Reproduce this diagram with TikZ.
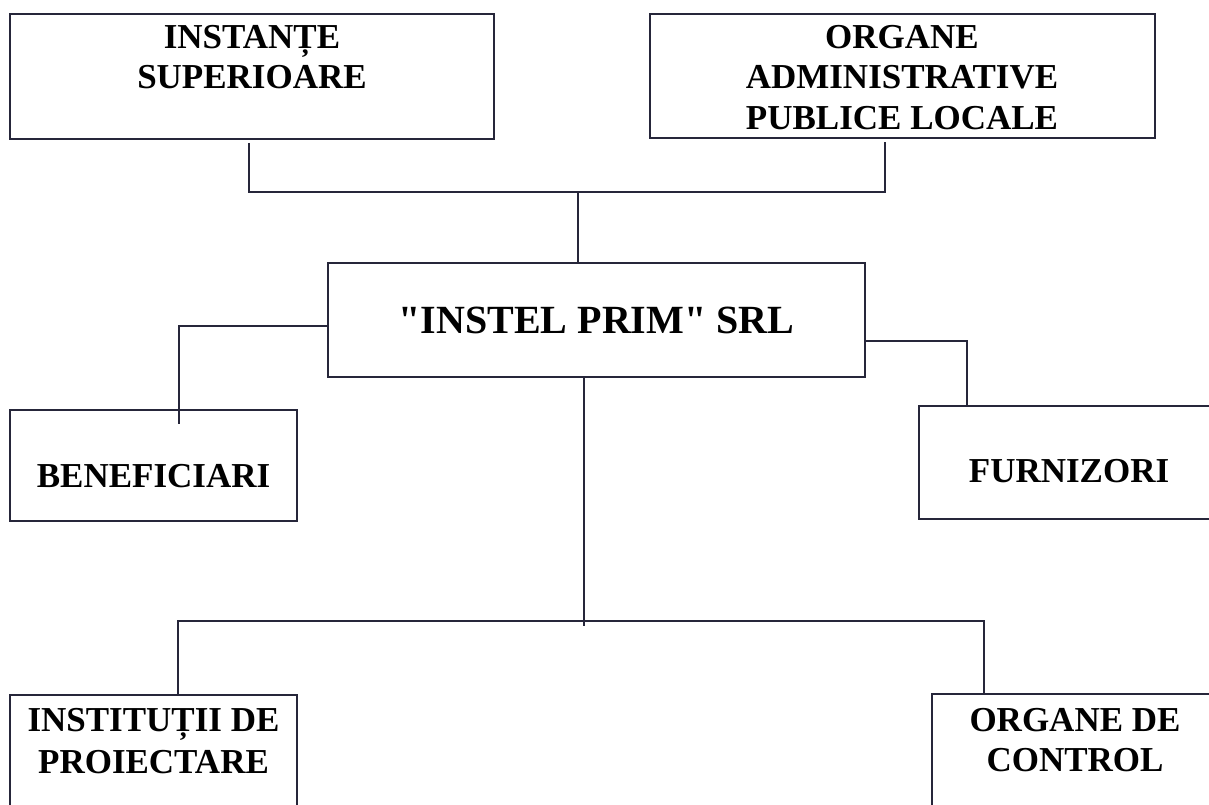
\documentclass[tikz,border=0pt]{standalone}
\usepackage{fontspec}
\setmainfont{Liberation Serif}[Ligatures=TeXOff]
\definecolor{linec}{RGB}{38,38,58}
\begin{document}
\begin{tikzpicture}[x=1pt,y=-1pt,
  box/.style={draw=linec, line width=1.6pt, rectangle, inner sep=0pt, outer sep=0pt},
  lbl/.style={font=\bfseries\fontsize{35}{40}\selectfont, align=center, inner sep=0pt, text=black},
  biglbl/.style={font=\bfseries\fontsize{40}{46}\selectfont, align=center, inner sep=0pt, text=black},
  conn/.style={draw=linec, line width=1.6pt}]
\clip (0,0) rectangle (1209,805);
\fill[white] (0,0) rectangle (1209,805);
% boxes
\node[box, minimum width=484pt, minimum height=125pt] (b1) at (252,76.5) {};
\node[box, minimum width=505pt, minimum height=124pt] (b2) at (902.5,76) {};
\node[box, minimum width=537pt, minimum height=114pt] (b3) at (596.5,320) {};
\node[box, minimum width=287pt, minimum height=111pt] (b4) at (153.5,465.5) {};
\node[box, minimum width=300pt, minimum height=113pt] (b5) at (1069,462.5) {};
\node[box, minimum width=287pt, minimum height=150pt] (b6) at (153.5,770) {};
\node[box, minimum width=286pt, minimum height=150pt] (b7) at (1075,769) {};
% labels
\node[lbl, anchor=north] (t1) at (252,25) {INSTANȚE\\SUPERIOARE};
\node[lbl, anchor=north, font=\bfseries\fontsize{35}{40.5}\selectfont] (t2) at (902,25) {ORGANE\\ADMINISTRATIVE\\PUBLICE LOCALE};
\node[biglbl, anchor=base] (t3) at (596.5,333) {"INSTEL PRIM" SRL};
\node[lbl, anchor=base] (t4) at (153.5,487) {BENEFICIARI};
\node[lbl, anchor=base] (t5) at (1069,482) {FURNIZORI};
\node[lbl, anchor=north, font=\bfseries\fontsize{35}{42}\selectfont] (t6) at (153.5,708) {INSTITUȚII DE\\PROIECTARE};
\node[lbl, anchor=north] (t7) at (1075,708) {ORGANE DE\\CONTROL};
% connector points
\coordinate (c1) at (249,192);
\coordinate (c2) at (885,192);
\coordinate (jt) at (578,192);
\coordinate (cl) at (179,326);
\coordinate (cr) at (967,341);
\coordinate (jb) at (584,621);
\coordinate (jbe) at (584,626);
\coordinate (cbl) at (178,621);
\coordinate (cbr) at (984,621);
\coordinate (b4in) at (179,424);
% connectors
\draw[conn] ([yshift=-4pt]b1.south -| c1) -- (c1) -- (c2) -- ([yshift=-4pt]b2.south -| c2);
\draw[conn] (jt) -- (b3.north -| jt);
\draw[conn] (b3.west |- cl) -- (cl) -- (b4in);
\draw[conn] (b3.east |- cr) -- (cr) -- (b5.north -| cr);
\draw[conn] (b3.south -| jb) -- (jbe);
\draw[conn] (b6.north -| cbl) -- (cbl) -- (cbr) -- (b7.north -| cbr);
\end{tikzpicture}
\end{document}
